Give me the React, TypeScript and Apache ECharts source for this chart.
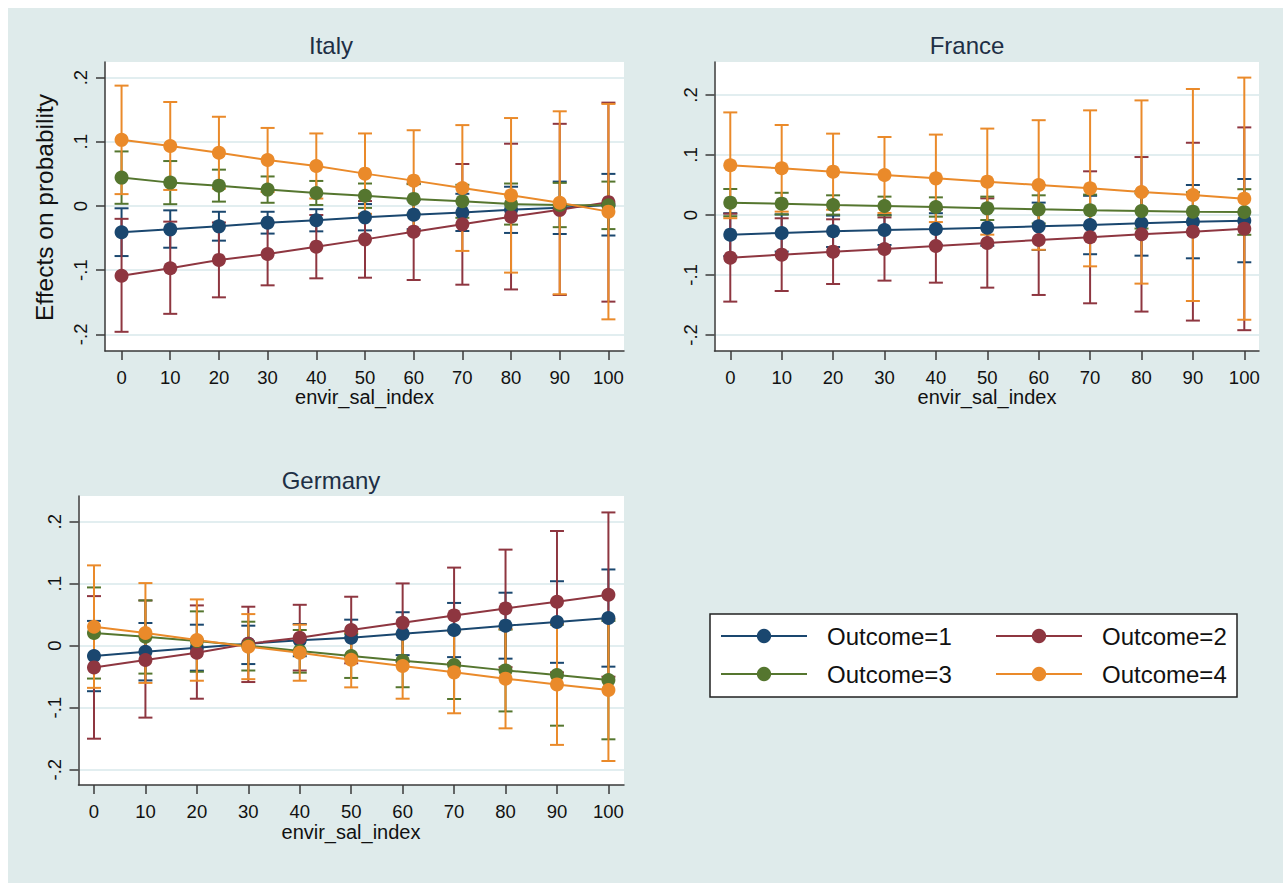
import React, { useEffect, useRef } from "react";
import * as echarts from "echarts";

// ---------- data ----------
const X_VALUES = [0, 10, 20, 30, 40, 50, 60, 70, 80, 90, 100];
const X_TICKS = [0, 10, 20, 30, 40, 50, 60, 70, 80, 90, 100];
const Y_TICKS = [-0.2, -0.1, 0, 0.1, 0.2];
const OUTCOMES = ["Outcome=1", "Outcome=2", "Outcome=3", "Outcome=4"];
const COUNTRIES = ["Italy", "France", "Germany"];
const X_TITLE = "envir_sal_index";
const Y_TITLE = "Effects on probability";

// Italy
const IT_O1_MEAN = [-0.041, -0.0364, -0.0317, -0.026, -0.0223, -0.0177, -0.0135, -0.01, -0.006, -0.0026, 0.0016];
const IT_O1_LO = [-0.078, -0.065, -0.054, -0.043, -0.0395, -0.038, -0.036, -0.039, -0.042, -0.0436, -0.046];
const IT_O1_HI = [-0.0036, -0.0068, -0.009, -0.009, -0.005, 0.003, 0.009, 0.019, 0.03, 0.038, 0.05];
const IT_O2_MEAN = [-0.1086, -0.097, -0.084, -0.0748, -0.0634, -0.052, -0.04, -0.0286, -0.0166, -0.006, 0.006];
const IT_O2_LO = [-0.196, -0.168, -0.1423, -0.1236, -0.1127, -0.1117, -0.1153, -0.1226, -0.13, -0.1387, -0.149];
const IT_O2_HI = [-0.02, -0.0244, -0.0257, -0.026, -0.014, 0.0077, 0.035, 0.0654, 0.097, 0.128, 0.161];
const IT_O3_MEAN = [0.0442, 0.0364, 0.0317, 0.0255, 0.0203, 0.016, 0.011, 0.0073, 0.003, 0.0015, 0.001];
const IT_O3_LO = [0.0034, 0.0028, 0.0068, 0.005, 0.0016, -0.003, -0.012, -0.0184, -0.029, -0.033, -0.036];
const IT_O3_HI = [0.085, 0.07, 0.0566, 0.046, 0.039, 0.035, 0.034, 0.033, 0.035, 0.036, 0.038];
const IT_O4_MEAN = [0.103, 0.0935, 0.083, 0.0717, 0.0623, 0.0504, 0.0395, 0.028, 0.0166, 0.005, -0.0088];
const IT_O4_LO = [0.0185, 0.025, 0.027, 0.0218, 0.0116, -0.0122, -0.039, -0.07, -0.1038, -0.1375, -0.1766];
const IT_O4_HI = [0.1875, 0.162, 0.139, 0.1216, 0.113, 0.113, 0.118, 0.126, 0.137, 0.1475, 0.159];

// France
const FR_O1_MEAN = [-0.0328, -0.03, -0.0272, -0.025, -0.0233, -0.0211, -0.0189, -0.0167, -0.0139, -0.0111, -0.0094];
const FR_O1_LO = [-0.0686, -0.061, -0.0534, -0.05, -0.0496, -0.0512, -0.0584, -0.0654, -0.0678, -0.0722, -0.0788];
const FR_O1_HI = [0.003, 0.001, -0.001, 0.0, 0.003, 0.009, 0.0206, 0.032, 0.04, 0.05, 0.06];
const FR_O2_MEAN = [-0.0711, -0.0661, -0.0611, -0.0567, -0.0517, -0.0467, -0.0417, -0.0372, -0.0322, -0.0278, -0.0228];
const FR_O2_LO = [-0.1444, -0.1267, -0.115, -0.1094, -0.1128, -0.1211, -0.1333, -0.1472, -0.161, -0.176, -0.192];
const FR_O2_HI = [0.0022, -0.0055, -0.0072, -0.004, 0.0094, 0.0277, 0.05, 0.0728, 0.0966, 0.1204, 0.146];
const FR_O3_MEAN = [0.0206, 0.0189, 0.0167, 0.015, 0.0133, 0.0111, 0.0094, 0.0078, 0.0067, 0.0056, 0.005];
const FR_O3_LO = [-0.0021, 0.0008, 0.0006, -0.0006, -0.0028, -0.0084, -0.014, -0.0184, -0.0226, -0.0268, -0.033];
const FR_O3_HI = [0.0433, 0.037, 0.0328, 0.0306, 0.0294, 0.0306, 0.0328, 0.034, 0.036, 0.038, 0.043];
const FR_O4_MEAN = [0.0828, 0.0778, 0.0722, 0.0667, 0.0611, 0.0556, 0.05, 0.0444, 0.0383, 0.0333, 0.0272];
const FR_O4_LO = [-0.0054, 0.0056, 0.0088, 0.0034, -0.0118, -0.0328, -0.058, -0.0856, -0.1144, -0.1434, -0.1746];
const FR_O4_HI = [0.171, 0.15, 0.1356, 0.13, 0.134, 0.144, 0.158, 0.1744, 0.191, 0.21, 0.229];

// Germany
const DE_O1_MEAN = [-0.0167, -0.0097, -0.0032, 0.0032, 0.009, 0.013, 0.0194, 0.0253, 0.0323, 0.0382, 0.0446];
const DE_O1_LO = [-0.0734, -0.056, -0.0403, -0.0296, -0.017, -0.016, -0.0152, -0.0184, -0.0209, -0.0276, -0.0338];
const DE_O1_HI = [0.04, 0.0366, 0.0339, 0.0323, 0.035, 0.042, 0.054, 0.069, 0.0855, 0.104, 0.123];
const DE_O2_MEAN = [-0.035, -0.0231, -0.0113, 0.0032, 0.0129, 0.0253, 0.0371, 0.0489, 0.0602, 0.071, 0.0823];
const DE_O2_LO = [-0.15, -0.116, -0.0855, -0.0586, -0.04, -0.0284, -0.026, -0.028, -0.0346, -0.043, -0.05];
const DE_O2_HI = [0.08, 0.073, 0.065, 0.0629, 0.066, 0.079, 0.1005, 0.126, 0.155, 0.185, 0.215];
const DE_O3_MEAN = [0.0204, 0.0145, 0.0075, 0.0, -0.0086, -0.0167, -0.0242, -0.0312, -0.0398, -0.0473, -0.0554];
const DE_O3_LO = [-0.053, -0.045, -0.042, -0.04, -0.0435, -0.052, -0.067, -0.086, -0.106, -0.129, -0.151];
const DE_O3_HI = [0.094, 0.073, 0.0554, 0.0387, 0.0253, 0.019, 0.019, 0.024, 0.026, 0.034, 0.04];
const DE_O4_MEAN = [0.0306, 0.0204, 0.0091, -0.0016, -0.0113, -0.0226, -0.0328, -0.043, -0.0532, -0.0624, -0.0715];
const DE_O4_LO = [-0.068, -0.06, -0.0565, -0.054, -0.0565, -0.0672, -0.0855, -0.109, -0.1333, -0.16, -0.186];
const DE_O4_HI = [0.1296, 0.101, 0.0747, 0.051, 0.0339, 0.022, 0.0199, 0.023, 0.0269, 0.035, 0.043];

// ---------- styling ----------
const COLORS = ["#1a476f", "#8e3640", "#55762f", "#ea8a2a"];
const FONT = '"Liberation Sans", Arial, Helvetica, sans-serif';
const BG = "#dfebeb";
const AXIS_COLOR = "#3a3a3a";
const GRID_COLOR = "#e2eef0";

const PANELS = [
  {
    name: COUNTRIES[0],
    grid: { left: 97, top: 54, width: 519, height: 289 },
    xRange: [-3.4, 103.2],
    yRange: [-0.2259, 0.2243],
    stats: [
      [IT_O1_MEAN, IT_O1_LO, IT_O1_HI],
      [IT_O2_MEAN, IT_O2_LO, IT_O2_HI],
      [IT_O3_MEAN, IT_O3_LO, IT_O3_HI],
      [IT_O4_MEAN, IT_O4_LO, IT_O4_HI],
    ],
    title: [323, 37],
    xTitle: [356.5, 389],
  },
  {
    name: COUNTRIES[1],
    grid: { left: 706.5, top: 54, width: 544.5, height: 289 },
    xRange: [-3.07, 102.86],
    yRange: [-0.2267, 0.255],
    stats: [
      [FR_O1_MEAN, FR_O1_LO, FR_O1_HI],
      [FR_O2_MEAN, FR_O2_LO, FR_O2_HI],
      [FR_O3_MEAN, FR_O3_LO, FR_O3_HI],
      [FR_O4_MEAN, FR_O4_LO, FR_O4_HI],
    ],
    title: [959, 37],
    xTitle: [979, 389],
  },
  {
    name: COUNTRIES[2],
    grid: { left: 70.5, top: 488, width: 545.5, height: 289 },
    xRange: [-3.01, 103.03],
    yRange: [-0.2247, 0.2415],
    stats: [
      [DE_O1_MEAN, DE_O1_LO, DE_O1_HI],
      [DE_O2_MEAN, DE_O2_LO, DE_O2_HI],
      [DE_O3_MEAN, DE_O3_LO, DE_O3_HI],
      [DE_O4_MEAN, DE_O4_LO, DE_O4_HI],
    ],
    title: [323, 472],
    xTitle: [343, 824],
  },
];

const fmtY = (v: number) => {
  if (Math.abs(v) < 1e-9) return "0";
  const s = String(Math.round(Math.abs(v) * 10));
  return (v < 0 ? "-" : "") + "." + s;
};

function buildOption() {
  const grids: any[] = [];
  const xAxes: any[] = [];
  const yAxes: any[] = [];
  const ciSeries: any[] = [];
  const lineSeries: any[] = [];
  const graphics: any[] = [];

  PANELS.forEach((p, i) => {
    grids.push({ ...p.grid, show: true, backgroundColor: "#ffffff", borderWidth: 0, containLabel: false });
    xAxes.push({
      type: "value",
      gridIndex: i,
      min: p.xRange[0],
      max: p.xRange[1],
      axisLine: { show: true, onZero: false, lineStyle: { color: AXIS_COLOR, width: 1.5 } },
      axisTick: { show: true, length: 9, customValues: X_TICKS, lineStyle: { color: AXIS_COLOR, width: 1.5 } },
      axisLabel: { show: true, customValues: X_TICKS, fontSize: 18.5, color: "#111", margin: 17, fontFamily: FONT },
      splitLine: { show: false },
    });
    yAxes.push({
      type: "value",
      gridIndex: i,
      min: p.yRange[0],
      max: p.yRange[1],
      axisLine: { show: true, onZero: false, lineStyle: { color: AXIS_COLOR, width: 1.5 } },
      axisTick: { show: true, length: 9, customValues: Y_TICKS, lineStyle: { color: AXIS_COLOR, width: 1.5 } },
      axisLabel: {
        show: true,
        customValues: Y_TICKS,
        rotate: 90,
        fontSize: 18.5,
        color: "#111",
        margin: 15,
        fontFamily: FONT,
        formatter: (v: number) => fmtY(v),
      },
      splitLine: { show: true, lineStyle: { color: GRID_COLOR, width: 2 } },
    });

    p.stats.forEach((st, k) => {
      const [mean, lo, hi] = st;
      const color = COLORS[k];
      ciSeries.push({
        type: "custom",
        name: OUTCOMES[k] + " CI",
        xAxisIndex: i,
        yAxisIndex: i,
        z: 2,
        silent: true,
        data: X_VALUES.map((x, j) => [x, lo[j], hi[j]]),
        encode: { x: 0, y: [1, 2] },
        renderItem: (_params: any, api: any) => {
          const x = api.value(0);
          const pLo = api.coord([x, api.value(1)]);
          const pHi = api.coord([x, api.value(2)]);
          const hw = 7;
          const style = { stroke: color, lineWidth: 2 };
          return {
            type: "group",
            children: [
              { type: "line", shape: { x1: pHi[0], y1: pHi[1], x2: pLo[0], y2: pLo[1] }, style },
              { type: "line", shape: { x1: pHi[0] - hw, y1: pHi[1], x2: pHi[0] + hw, y2: pHi[1] }, style },
              { type: "line", shape: { x1: pLo[0] - hw, y1: pLo[1], x2: pLo[0] + hw, y2: pLo[1] }, style },
            ],
          };
        },
      });
      lineSeries.push({
        type: "line",
        name: OUTCOMES[k],
        xAxisIndex: i,
        yAxisIndex: i,
        z: 3,
        data: X_VALUES.map((x, j) => [x, mean[j]]),
        symbol: "circle",
        symbolSize: 14,
        showSymbol: true,
        lineStyle: { color, width: 2 },
        itemStyle: { color },
        emphasis: { disabled: true },
      });
    });

    graphics.push({
      type: "text",
      x: p.title[0],
      y: p.title[1],
      style: { text: p.name, fontSize: 24, fontFamily: FONT, fill: "#1e2f45", align: "center", verticalAlign: "middle" },
    });
    graphics.push({
      type: "text",
      x: p.xTitle[0],
      y: p.xTitle[1],
      style: { text: X_TITLE, fontSize: 20, fontFamily: FONT, fill: "#111", align: "center", verticalAlign: "middle" },
    });
  });

  graphics.push({
    type: "text",
    x: 36,
    y: 199.5,
    rotation: Math.PI / 2,
    style: { text: Y_TITLE, fontSize: 24.5, fontFamily: FONT, fill: "#111", align: "center", verticalAlign: "middle" },
  });
  graphics.push({
    type: "rect",
    z: 0,
    shape: { x: 702, y: 606, width: 527, height: 83 },
    style: { fill: "#ffffff", stroke: "#222", lineWidth: 1.5 },
  });

  const legendPos = [
    [712, 616],
    [987, 616],
    [712, 654],
    [987, 654],
  ];
  const legends = OUTCOMES.map((name, k) => ({
    data: [name],
    left: legendPos[k][0],
    top: legendPos[k][1],
    orient: "horizontal",
    padding: 0,
    itemGap: 0,
    itemWidth: 86,
    itemHeight: 18,
    selectedMode: false,
    z: 5,
    textStyle: { fontSize: 24, color: "#111", fontFamily: FONT, padding: [0, 0, 0, 15] },
  }));

  return {
    animation: false,
    backgroundColor: BG,
    grid: grids,
    xAxis: xAxes,
    yAxis: yAxes,
    legend: legends,
    graphic: graphics,
    series: [...ciSeries, ...lineSeries],
  };
}

export default function App() {
  const ref = useRef<HTMLDivElement>(null);
  useEffect(() => {
    if (!ref.current) return;
    const chart = echarts.init(ref.current, undefined, { renderer: "svg" });
    chart.setOption(buildOption() as any);
    return () => chart.dispose();
  }, []);
  return (
    <div
      ref={ref}
      style={{ position: "fixed", left: 8, top: 8, width: 1275, height: 875, background: BG }}
    />
  );
}
